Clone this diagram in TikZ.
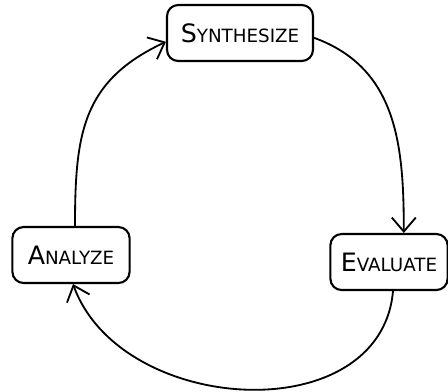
\documentclass[tikz,border=0pt]{standalone}
\usepackage{fontspec}
\setmainfont{DejaVu Sans}
\usepackage{tikz}
\usetikzlibrary{arrows.meta}

% fake small caps: big first letter, smaller rest
\newcommand{\stagename}[2]{{\fontsize{18pt}{18pt}\selectfont #1}{\fontsize{13pt}{13pt}\selectfont #2}}

\begin{document}
\begin{tikzpicture}[
    x=0.025cm, y=0.025cm,
    stage/.style={rectangle, draw, line width=1.5pt, rounded corners=8pt, align=center, minimum height=1.4cm, inner sep=2pt},
    arrow/.style={-{Straight Barb[length=0.35cm, width=0.6cm, line width=1.3pt]}, line width=1.3pt},
]
\useasboundingbox (0,0) rectangle (448,391);

% Stages
\node[stage, minimum width=3.65cm] (syn) at (240,358) {\stagename{S}{YNTHESIZE}};
\node[stage, minimum width=2.93cm] (ana) at (71,136) {\stagename{A}{NALYZE}};
\node[stage, minimum width=2.93cm] (eva) at (389,129) {\stagename{E}{VALUATE}};

% Cycle
\draw[arrow] ([xshift=0.1cm]ana.north) to[out=90, in=205, looseness=1.15] ([yshift=-0.22cm]syn.west);
\draw[arrow] ([yshift=-0.12cm]syn.east) to[out=-20, in=90, looseness=1.05] ([xshift=0.37cm]eva.north);
\draw[arrow] ([xshift=0.1cm]eva.south) to[out=-95, in=-70, looseness=1.12] ([xshift=0.05cm]ana.south);

\end{tikzpicture}
\end{document}
